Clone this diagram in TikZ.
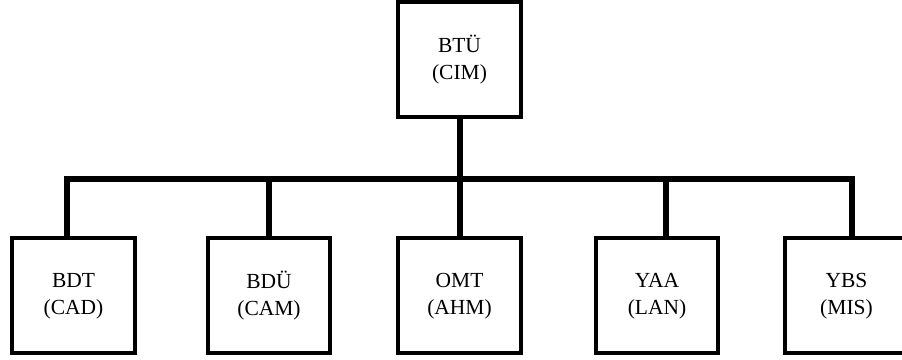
\documentclass[tikz,border=0pt]{standalone}
\usepackage{fontspec}
\setmainfont{Liberation Serif}
\usetikzlibrary{positioning}

\begin{document}
\begin{tikzpicture}[
    x=1pt, y=1pt,
    unit/.style={draw, line width=4pt, outer sep=0pt, minimum width=122.5pt, minimum height=115pt, align=center, font=\fontsize{21.5pt}{27pt}\selectfont},
    wire/.style={line width=6pt, line join=miter}
]
\useasboundingbox (0,0) rectangle (902,-359);

% Nodes
\node[unit] (BTU) at (459.5,-59.25) {BTÜ\\(CIM)};
\node[unit, below=121.5pt of BTU] (OMT) {OMT\\(AHM)};
\node[unit, left=68pt of OMT] (BDU) {BDÜ\\(CAM)};
\node[unit, left=73pt of BDU] (BDT) {BDT\\(CAD)};
\node[unit, right=75pt of OMT] (YAA) {YAA\\(LAN)};
\node[unit, right=67pt of YAA] (YBS) {YBS\\(MIS)};

\coordinate (bus) at ([yshift=-62.5pt]BTU.south);

% Lines
\draw[wire] ([xshift=-6.75pt]BDT.north) |- (bus) -| ([xshift=5.5pt]YBS.north);
\draw[wire] (BTU.south) -- (OMT.north);
\draw[wire] (BDU.north |- bus) -- (BDU.north);
\draw[wire] ([xshift=9pt]YAA.north |- bus) -- ([xshift=9pt]YAA.north);

\end{tikzpicture}
\end{document}
